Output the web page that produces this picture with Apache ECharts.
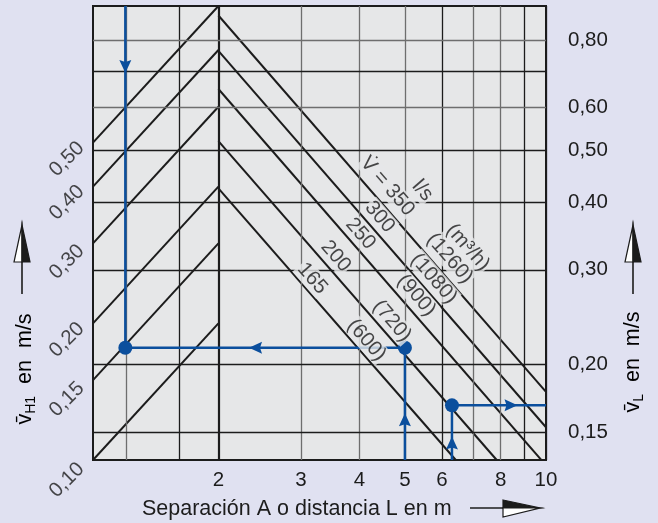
<!DOCTYPE html>
<html>
<head>
<meta charset="utf-8">
<script src="https://cdn.jsdelivr.net/npm/echarts@6/dist/echarts.min.js"></script>
<style>
  html, body { margin: 0; padding: 0; background: #e0e1f1; }
  #chart { width: 658px; height: 523px; }
</style>
</head>
<body>
<div id="chart"></div>
<script>
// axis ranges (log scales)
const xMin = 1.08, xMax = 10;        // separation A / distance L in m
const vlMin = 0.133, vlMax = 0.927;  // right axis, v_L in m/s
const vhMin = 0.1, vhMax = 1.0;      // left axis, v_H1 in m/s

// vertical grid lines and their tick labels
const xGrid = [1.266, 1.65, 2, 3, 4, 5, 6, 7, 8, 9, 10];
const xTickLabels = ['', '', '2', '3', '4', '5', '6', '', '8', '', '10'];

// horizontal grid lines (right axis) and labels
const yGrid = [0.15, 0.2, 0.3, 0.4, 0.5, 0.6, 0.7, 0.8];
const yTickLabels = ['0,15', '0,20', '0,30', '0,40', '0,50', '0,60', '', '0,80'];

// falling lines: air volume V (l/s, m3/h), from L = 2 to the edge
const flowLs = ['V\u0307 = 350', '300', '250', '200', '165'];
const flowM3h = ['(1260)', '(1080)', '(900)', '(720)', '(600)'];
const flowStartV = [0.89, 0.765, 0.65, 0.52, 0.425];
const flowEndL = [10, 10, 10, 7.85, 6.42];
const flowEndV = [0.178, 0.153, 0.13, 0.133, 0.133];
const flowLabelL = [4.59, 4.42, 4.02, 3.56, 3.17];
const flowLabelV = [0.429, 0.376, 0.350, 0.318, 0.289];
const m3hLabelL = [6.23, 5.76, 5.29, 4.69, 4.14];
const m3hLabelV = [0.315, 0.289, 0.269, 0.241, 0.222];

// rising lines: v_H1 (left axis), from the left edge to A = 2
const risingStartV = [0.10, 0.15, 0.20, 0.30, 0.40, 0.50];
const risingEndV = [0.20, 0.30, 0.40, 0.60, 0.80, 1.00];
const risingLabels = ['0,10', '0,15', '0,20', '0,30', '0,40', '0,50'];
const risingLabelL = [0.95, 0.95, 0.95, 0.95, 0.95, 0.95];
const risingLabelV = [0.0903, 0.136, 0.184, 0.273, 0.369, 0.46];

// worked examples (blue)
const ex1L = [1.266, 1.266, 1.266, 2.40, 5, 5, 5];
const ex1V = [vlMax, 0.716, 0.215, 0.215, 0.215, 0.158, vlMin];
const ex1Mark = ['none', 'down', 'dot', 'left', 'dot', 'up', 'none'];
const ex2L = [6.3, 6.3, 6.3, 8.42, 10];
const ex2V = [vlMin, 0.143, 0.168, 0.168, 0.168];
const ex2Mark = ['none', 'up', 'dot', 'right', 'none'];

const font = "'Liberation Sans', Arial, Helvetica, sans-serif";
const ink = '#1c1c1c';
const blue = '#0b4f9d';
const plotBg = '#e6e7e8';
const bg = '#e0e1f1';
const grayX = [1.266, 3, 4, 5, 7, 8];
const grayY = [0.6, 0.8];
const tickSize = 20.5;
const titleSize = 21.5;

const arrowPath = 'path://M0,0 L6,13 L0,11 L-6,13 Z';
const arrowRot = { up: 0, down: 180, left: 90, right: -90 };

function pathPoint(l, v, mark) {
  if (mark === 'none') return { value: [l, v], symbol: 'none' };
  if (mark === 'dot') return { value: [l, v], symbol: 'circle', symbolSize: 14 };
  return { value: [l, v], symbol: arrowPath, symbolSize: [12, 13], symbolRotate: arrowRot[mark] };
}

const xMarks = xGrid.map((v, i) => ({
  xAxis: v,
  lineStyle: {
    color: grayX.includes(v) ? '#6e6e6e' : ink,
    width: v === 2 ? 2.2 : 1.3,
    type: 'solid'
  },
  label: {
    show: xTickLabels[i] !== '',
    formatter: xTickLabels[i],
    position: 'start',
    distance: 10,
    color: ink,
    fontSize: tickSize,
    fontFamily: font
  }
}));

const yMarks = yGrid.map((v, i) => ({
  yAxis: v,
  lineStyle: {
    color: grayY.includes(v) ? '#6e6e6e' : ink,
    width: 1.3,
    type: 'solid'
  },
  label: {
    show: yTickLabels[i] !== '',
    formatter: yTickLabels[i],
    position: 'end',
    distance: 22,
    color: ink,
    fontSize: tickSize,
    fontFamily: font
  }
}));

const series = [];

series.push({
  type: 'line',
  xAxisIndex: 0,
  yAxisIndex: 0,
  data: [],
  z: 1,
  markLine: {
    silent: true,
    symbol: 'none',
    animation: false,
    data: xMarks.concat(yMarks)
  }
});

flowStartV.forEach((v, i) => {
  series.push({
    type: 'line',
    yAxisIndex: 0,
    symbol: 'none',
    silent: true,
    z: 3,
    lineStyle: { color: ink, width: 2 },
    data: [[2, v], [flowEndL[i], flowEndV[i]]]
  });
});

risingStartV.forEach((v, i) => {
  series.push({
    type: 'line',
    yAxisIndex: 1,
    symbol: 'none',
    silent: true,
    z: 3,
    lineStyle: { color: ink, width: 2 },
    data: [[xMin, v], [2, risingEndV[i]]]
  });
});

[[ex1L, ex1V, ex1Mark], [ex2L, ex2V, ex2Mark]].forEach(([ls, vs, marks]) => {
  series.push({
    type: 'line',
    yAxisIndex: 0,
    symbol: 'circle',
    silent: true,
    z: 5,
    lineStyle: { color: blue, width: 2.5 },
    itemStyle: { color: blue },
    data: ls.map((l, i) => pathPoint(l, vs[i], marks[i]))
  });
});

// text along the falling lines
const lineTexts = [];
flowLs.forEach((t, i) => lineTexts.push({ value: [flowLabelL[i], flowLabelV[i]], name: t }));
flowM3h.forEach((t, i) => lineTexts.push({ value: [m3hLabelL[i], m3hLabelV[i]], name: t }));
lineTexts.push({ value: [5.45, 0.421], name: 'l/s' });
lineTexts.push({ value: [6.81, 0.330], name: '(m\u00b3/h)' });

series.push({
  type: 'scatter',
  yAxisIndex: 0,
  clip: false,
  silent: true,
  z: 8,
  symbolSize: 1,
  itemStyle: { color: 'transparent' },
  data: lineTexts,
  label: {
    show: true,
    position: 'inside',
    formatter: p => p.name,
    rotate: -49,
    color: ink,
    fontSize: tickSize,
    fontFamily: font,
    backgroundColor: plotBg,
    padding: [0, 1]
  }
});

// left axis labels for the rising lines
series.push({
  type: 'scatter',
  yAxisIndex: 1,
  clip: false,
  silent: true,
  z: 8,
  symbolSize: 1,
  itemStyle: { color: 'transparent' },
  data: risingLabels.map((t, i) => ({ value: [risingLabelL[i], risingLabelV[i]], name: t })),
  label: {
    show: true,
    position: 'inside',
    formatter: p => p.name,
    rotate: 45,
    color: ink,
    fontSize: tickSize,
    fontFamily: font
  }
});

const hiddenAxis = {
  axisLine: { show: false },
  axisTick: { show: false },
  axisLabel: { show: false },
  splitLine: { show: false }
};

const titleRich = {
  v: { fontSize: titleSize, fontFamily: font, color: ink, lineHeight: 26 },
  s: { fontSize: 14, fontFamily: font, color: ink, lineHeight: 14, verticalAlign: 'bottom' },
  t: { fontSize: titleSize, fontFamily: font, color: ink, lineHeight: 26 }
};

function upArrow(x) {
  return [
    { type: 'line', shape: { x1: x, y1: 294, x2: x, y2: 260 }, style: { stroke: ink, lineWidth: 1.6 } },
    { type: 'polygon', shape: { points: [[x, 225], [x - 8, 262], [x, 262]] }, style: { fill: '#fff', stroke: ink, lineWidth: 1.2 } },
    { type: 'polygon', shape: { points: [[x, 225], [x + 8, 262], [x, 262]] }, style: { fill: ink, stroke: ink, lineWidth: 1.2 } }
  ];
}

const graphic = [
  {
    type: 'text', x: 142, y: 509,
    style: { text: 'Separación A o distancia L en m', fontSize: titleSize, fontFamily: font, fill: ink, align: 'left', verticalAlign: 'middle' }
  },
  { type: 'line', shape: { x1: 470, y1: 508, x2: 505, y2: 508 }, style: { stroke: ink, lineWidth: 1.6 } },
  { type: 'polygon', shape: { points: [[503, 500], [540, 508], [503, 508]] }, style: { fill: ink, stroke: ink, lineWidth: 1.2 } },
  { type: 'polygon', shape: { points: [[503, 508], [540, 508], [503, 517]] }, style: { fill: '#fff', stroke: ink, lineWidth: 1.2 } },
  {
    type: 'text', x: 25, y: 369, rotation: Math.PI / 2,
    style: { text: '{v|v\u0304}{s|H1}{t|  en  m/s}', rich: titleRich, align: 'center', verticalAlign: 'middle' }
  },
  {
    type: 'text', x: 633, y: 362, rotation: Math.PI / 2,
    style: { text: '{v|v\u0304}{s|L}{t|  en  m/s}', rich: titleRich, align: 'center', verticalAlign: 'middle' }
  }
].concat(upArrow(22), upArrow(633));

const chart = echarts.init(document.getElementById('chart'));
chart.setOption({
  backgroundColor: bg,
  animation: false,
  grid: {
    left: 93, top: 6, right: 112, bottom: 63,
    show: true,
    backgroundColor: plotBg,
    borderColor: ink,
    borderWidth: 2
  },
  xAxis: Object.assign({ type: 'log', min: xMin, max: xMax }, hiddenAxis),
  yAxis: [
    Object.assign({ type: 'log', min: vlMin, max: vlMax, position: 'right' }, hiddenAxis),
    Object.assign({ type: 'log', min: vhMin, max: vhMax, position: 'left' }, hiddenAxis)
  ],
  graphic: graphic,
  series: series
});
</script>
</body>
</html>
